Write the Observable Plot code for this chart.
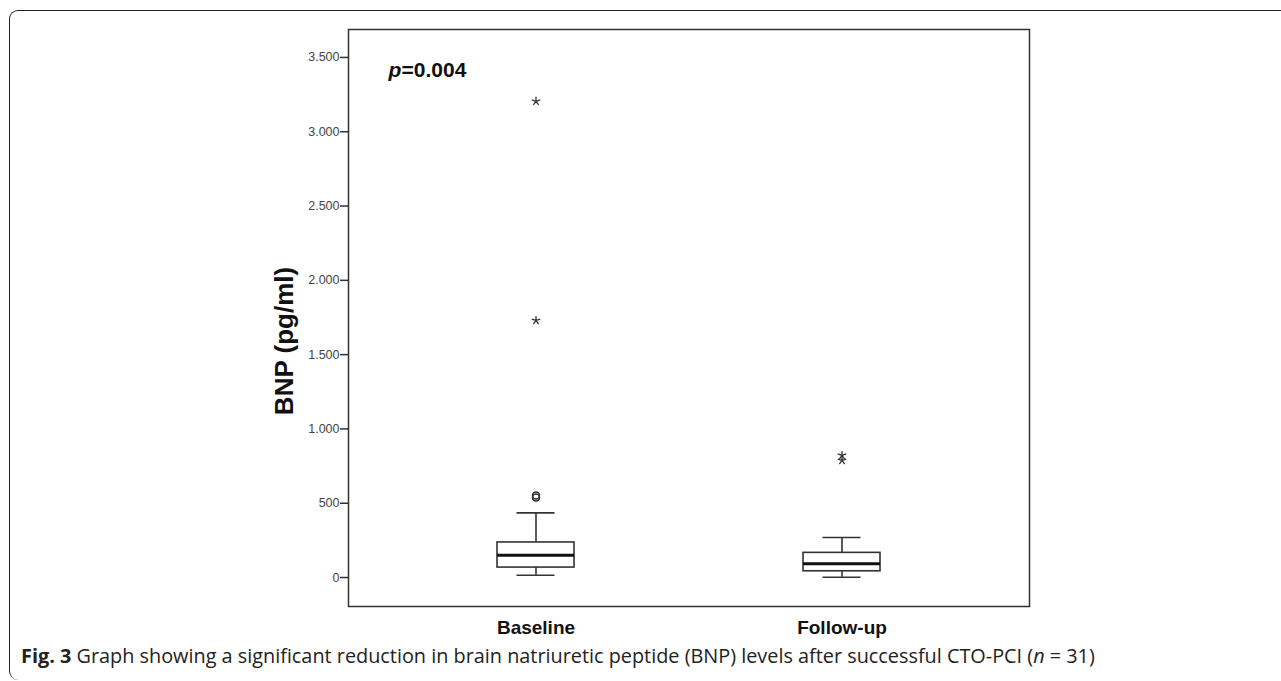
<!DOCTYPE html>
<html>
<head>
<meta charset="utf-8">
<script src="https://cdn.jsdelivr.net/npm/d3@7"></script>
<script src="https://cdn.jsdelivr.net/npm/@observablehq/plot@0.6"></script>
<style>
  body { margin: 0; background: white; width: 1281px; height: 681px; overflow: hidden; position: relative; }
  #chart { position: absolute; left: 0; top: 0; }
  #frame { position: absolute; left: 9px; top: 10px; width: 1300px; height: 669px;
           border-left: 1.5px solid #222; border-top: 1.5px solid #222; border-radius: 9px 0 0 9px;
           pointer-events: none; }
  #caption { position: absolute; left: 21px; top: 643px; font-family: "Open Sans", sans-serif;
             font-size: 19.85px; line-height: 26px; color: #222; white-space: nowrap; }
</style>
</head>
<body>
<div id="chart"></div>
<div id="frame"></div>
<div id="caption"><b>Fig. 3</b> Graph showing a significant reduction in brain natriuretic peptide (BNP) levels after successful CTO-PCI (<i>n</i> = 31)</div>
<script>
// ---- data ----
const categories = ["Baseline", "Follow-up"];
const whiskerLow = [15, 2];
const q1 = [67, 42];
const median = [150, 92];
const q3 = [236, 166];
const whiskerHigh = [435, 269];
const circleCats = ["Baseline", "Baseline"];
const circleValues = [538, 552];
const starCats = ["Baseline", "Baseline", "Follow-up", "Follow-up"];
const starValues = [3205, 1730, 822, 788];
const yTicks = [0, 500, 1000, 1500, 2000, 2500, 3000, 3500];
const yTickLabels = ["0", "500", "1.000", "1.500", "2.000", "2.500", "3.000", "3.500"];
const yLabel = "BNP (pg/ml)";

const boxes = categories.map((c, i) => ({cat: c, lo: whiskerLow[i], q1: q1[i], med: median[i], q3: q3[i], hi: whiskerHigh[i]}));
const circles = circleCats.map((c, i) => ({cat: c, v: circleValues[i]}));
const stars = starCats.map((c, i) => ({cat: c, v: starValues[i]}));

const asterisk5 = {
  draw(ctx, size) {
    const r = Math.sqrt(size / Math.PI);
    for (let k = 0; k < 5; k++) {
      const a = -Math.PI / 2 + k * 2 * Math.PI / 5;
      ctx.moveTo(0, 0);
      ctx.lineTo(r * Math.cos(a), r * Math.sin(a));
    }
  }
};

const ink = "#333";
const chart = Plot.plot({
  width: 1281,
  height: 645,
  marginLeft: 348,
  marginRight: 252,
  marginTop: 29,
  marginBottom: 39,
  style: {background: "transparent", fontFamily: "'Liberation Sans', Arial, sans-serif", color: "#222"},
  x: {type: "band", domain: categories, paddingInner: 0.749, paddingOuter: 0.484},
  y: {domain: [-195, 3688]},
  marks: [
    Plot.axisY({ticks: yTicks, tickFormat: d => yTickLabels[yTicks.indexOf(d)], tickSize: 8, tickPadding: 1,
                fontSize: 12.5, label: null, stroke: ink, strokeWidth: 1.5, fill: "#444"}),
    Plot.axisX({tickSize: 0, tickPadding: 14, fontSize: 19, fontWeight: "bold", label: null, fill: "#111"}),
    Plot.ruleX(boxes, {x: "cat", y1: "q3", y2: "hi", stroke: ink, strokeWidth: 1.6}),
    Plot.ruleX(boxes, {x: "cat", y1: "lo", y2: "q1", stroke: ink, strokeWidth: 1.6}),
    Plot.tickY(boxes, {x: "cat", y: "hi", stroke: ink, strokeWidth: 1.6, insetLeft: 19.5, insetRight: 19.5}),
    Plot.tickY(boxes, {x: "cat", y: "lo", stroke: ink, strokeWidth: 1.6, insetLeft: 19.5, insetRight: 19.5}),
    Plot.barY(boxes, {x: "cat", y1: "q1", y2: "q3", fill: "white", stroke: ink, strokeWidth: 1.6}),
    Plot.tickY(boxes, {x: "cat", y: "med", stroke: "#111", strokeWidth: 3}),
    Plot.dot(circles, {x: "cat", y: "v", r: 3.5, stroke: ink, strokeWidth: 1.5, fill: "none"}),
    Plot.dot(stars, {x: "cat", y: "v", r: 4.5, symbol: asterisk5, stroke: ink, strokeWidth: 1.3, fill: "none"}),
    Plot.text(["p"], {frameAnchor: "top-left", dx: 40, dy: 33, lineAnchor: "top", textAnchor: "start",
                      fontSize: 21, fontWeight: "bold", fontStyle: "italic", fill: "#111"}),
    Plot.text(["=0.004"], {frameAnchor: "top-left", dx: 53, dy: 33, lineAnchor: "top", textAnchor: "start",
                      fontSize: 21, fontWeight: "bold", fill: "#111"}),
    Plot.text([yLabel], {frameAnchor: "left", dx: -64, dy: 23, rotate: -90, textAnchor: "middle",
                         fontSize: 26, fontWeight: "bold", fill: "#111"}),
    Plot.frame({stroke: ink, strokeWidth: 1.5})
  ]
});
document.getElementById("chart").append(chart);
</script>
</body>
</html>
